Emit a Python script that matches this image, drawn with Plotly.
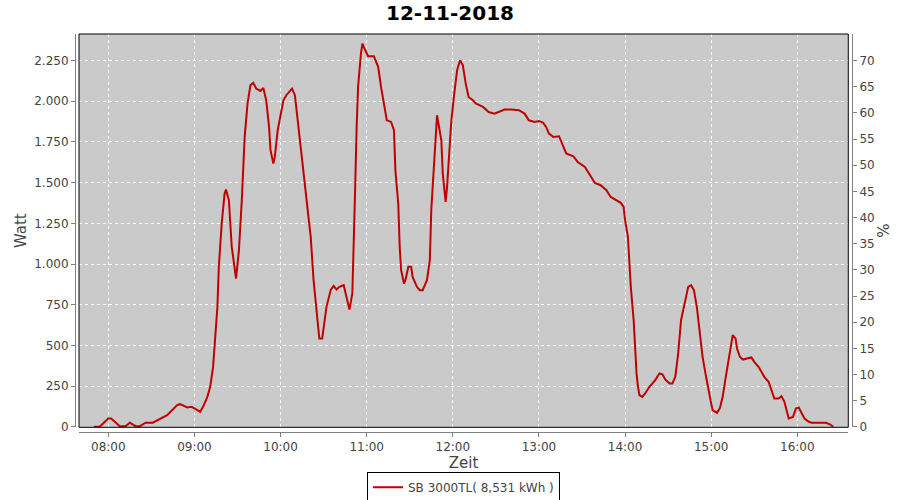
import plotly.graph_objects as go

# ---- data ----
DATE = "2018-11-12"
times = [
    "07:50", "07:54", "08:00", "08:02", "08:08", "08:12", "08:15", "08:19", "08:22", "08:26",
    "08:31", "08:36", "08:41", "08:48", "08:50", "08:55", "08:58", "09:00", "09:04", "09:06",
    "09:09", "09:11", "09:13", "09:16", "09:17", "09:19", "09:21", "09:22", "09:24", "09:26",
    "09:28", "09:29", "09:31", "09:33", "09:35", "09:37", "09:39", "09:41", "09:43", "09:46",
    "09:48", "09:50", "09:52", "09:53", "09:55", "09:56", "09:58", "10:00", "10:02", "10:04",
    "10:07", "10:08", "10:10", "10:12", "10:14", "10:16", "10:18", "10:21", "10:23", "10:25",
    "10:27", "10:29", "10:30", "10:32", "10:35", "10:37", "10:39", "10:41", "10:44", "10:46",
    "10:48", "10:50", "10:51", "10:52", "10:53", "10:54", "10:56", "10:57", "10:59", "11:01",
    "11:05", "11:08", "11:10", "11:13", "11:14", "11:17", "11:19", "11:20", "11:22", "11:23",
    "11:24", "11:26", "11:27", "11:29", "11:31", "11:32", "11:35", "11:37", "11:39", "11:42",
    "11:44", "11:45", "11:47", "11:48", "11:49", "11:50", "11:52", "11:53", "11:55", "11:56",
    "11:57", "11:59", "12:01", "12:03", "12:05", "12:07", "12:09", "12:11", "12:14", "12:16",
    "12:21", "12:25", "12:29", "12:33", "12:36", "12:41", "12:46", "12:50", "12:53", "12:57",
    "13:00", "13:03", "13:05", "13:07", "13:10", "13:14", "13:16", "13:19", "13:24", "13:27",
    "13:32", "13:35", "13:39", "13:43", "13:47", "13:50", "13:54", "13:57", "13:59", "14:00",
    "14:02", "14:03", "14:04", "14:06", "14:07", "14:08", "14:09", "14:10", "14:12", "14:14",
    "14:17", "14:21", "14:24", "14:26", "14:28", "14:31", "14:33", "14:35", "14:37", "14:39",
    "14:42", "14:44", "14:46", "14:48", "14:50", "14:52", "14:54", "14:56", "14:58", "15:00",
    "15:01", "15:04", "15:06", "15:08", "15:10", "15:12", "15:14", "15:15", "15:17", "15:18",
    "15:20", "15:22", "15:25", "15:28", "15:30", "15:33", "15:35", "15:37", "15:40", "15:42",
    "15:44", "15:47", "15:49", "15:51", "15:53", "15:54", "15:57", "15:59", "16:01", "16:03",
    "16:05", "16:08", "16:10", "16:20", "16:23", "16:25",
]
watts = [
    0, 0, 51, 51, 4, 4, 25, 4, 4, 25,
    25, 51, 72, 133, 139, 119, 123, 113, 92, 123,
    184, 246, 368, 737, 983, 1249, 1433, 1457, 1392, 1105,
    983, 911, 1085, 1392, 1781, 1986, 2098, 2113, 2078, 2063,
    2082, 2006, 1842, 1699, 1617, 1658, 1822, 1924, 2006, 2037,
    2067, 2078, 2037, 1883, 1720, 1556, 1392, 1167, 901, 696,
    542, 542, 614, 737, 843, 866, 843, 860, 870, 798,
    720, 819, 1105, 1474, 1842, 2088, 2293, 2354, 2313, 2276,
    2276, 2211, 2088, 1924, 1883, 1873, 1822, 1576, 1371, 1105,
    962, 880, 901, 983, 983, 921, 860, 839, 839, 901,
    1024, 1331, 1617, 1781, 1914, 1863, 1760, 1556, 1382, 1474,
    1638, 1883, 2047, 2190, 2252, 2221, 2108, 2026, 2006, 1986,
    1965, 1934, 1924, 1940, 1949, 1949, 1945, 1924, 1883, 1873,
    1879, 1867, 1842, 1801, 1781, 1785, 1740, 1679, 1662, 1627,
    1596, 1555, 1498, 1484, 1453, 1412, 1392, 1376, 1351, 1269,
    1167, 1024, 860, 655, 450, 328, 246, 194, 184, 205,
    246, 287, 328, 323, 291, 266, 266, 307, 450, 655,
    778, 860, 870, 839, 737, 573, 430, 328, 225, 143,
    102, 86, 113, 184, 297, 409, 502, 563, 542, 481,
    430, 413, 420, 426, 399, 368, 338, 307, 276, 225,
    174, 174, 188, 154, 82, 51, 61, 113, 119, 86,
    51, 31, 25, 25, 14, 0,
]
series_name = "SB 3000TL( 8,531 kWh )"
title_text = "12-11-2018"
watt_ticks = [0, 250, 500, 750, 1000, 1250, 1500, 1750, 2000, 2250]
pct_ticks = list(range(0, 75, 5))
x_ticks = ["08:00", "09:00", "10:00", "11:00", "12:00", "13:00", "14:00", "15:00", "16:00"]
x_range = ["07:39:35", "16:35:30"]
watt_range = [-3, 2413]
pct_per_watt = 70 / 2250
pct_range = [watt_range[0] * pct_per_watt, watt_range[1] * pct_per_watt]

xs = [f"{DATE} {t}" for t in times]
pct = [w * pct_per_watt for w in watts]

TICK_FONT = dict(family="DejaVu Sans", size=12, color="#444444")
TITLE_FONT = dict(family="DejaVu Sans", size=15, color="#444444")

fig = go.Figure()
fig.add_trace(go.Scatter(
    x=xs, y=watts, mode="lines", name=series_name,
    line=dict(color="#c00000", width=2), yaxis="y",
))
fig.add_trace(go.Scatter(
    x=xs, y=pct, mode="lines", line=dict(width=0, color="rgba(0,0,0,0)"),
    showlegend=False, hoverinfo="skip", yaxis="y2",
))

fig.add_shape(type="rect", xref="x domain", yref="y domain", x0=0, x1=1, y0=0, y1=1,
              line=dict(color="black", width=1), fillcolor="rgba(0,0,0,0)", layer="above")

fig.update_layout(
    width=900, height=500,
    margin=dict(l=75, r=48, t=34, b=68, autoexpand=False),
    paper_bgcolor="white",
    plot_bgcolor="#cacaca",
    separators=",.",
    title=dict(text=f"<b>{title_text}</b>", x=0.5, xref="container", xanchor="center",
               y=0.975, yref="container", yanchor="middle", automargin=False,
               font=dict(family="DejaVu Sans", size=20, color="black")),
    xaxis=dict(
        type="date", domain=[0.00515, 0.9952], automargin=False,
        range=[f"{DATE} {x_range[0]}", f"{DATE} {x_range[1]}"],
        tickvals=[f"{DATE} {t}" for t in x_ticks], ticktext=x_ticks,
        anchor="free", position=0,
        showline=True, linecolor="#808080", linewidth=1,
        ticks="outside", ticklen=4, tickcolor="#808080",
        showgrid=True, gridcolor="white", gridwidth=1, griddash="dot",
        zeroline=False, tickfont=TICK_FONT,
        title=dict(text="Zeit", font=TITLE_FONT, standoff=0),
    ),
    yaxis=dict(
        domain=[0.0118, 1], range=watt_range, automargin=False,
        tickvals=watt_ticks, tickformat=",d",
        anchor="free", position=0,
        showline=True, linecolor="#808080", linewidth=1,
        ticks="outside", ticklen=4, tickcolor="#808080",
        showgrid=True, gridcolor="white", gridwidth=1, griddash="dot",
        zeroline=False, tickfont=TICK_FONT,
        title=dict(text="Watt", font=TITLE_FONT, standoff=2),
    ),
    yaxis2=dict(
        overlaying="y", side="right", range=pct_range, automargin=False,
        tickvals=pct_ticks,
        anchor="free", position=1,
        showline=True, linecolor="#808080", linewidth=1,
        ticks="outside", ticklen=4, tickcolor="#808080",
        showgrid=False, zeroline=False, tickfont=TICK_FONT,
        title=dict(text="%", font=TITLE_FONT, standoff=4),
    ),
    showlegend=True,
    legend=dict(
        orientation="h", x=0.5, xanchor="center", y=-0.1, yanchor="top",
        bordercolor="black", borderwidth=1, bgcolor="white",
        font=dict(family="DejaVu Sans", size=12, color="#444444"),
        itemwidth=30,
    ),
)

fig.write_html("out.html", config={"displayModeBar": False},
               post_script="document.body.style.margin='0';")
